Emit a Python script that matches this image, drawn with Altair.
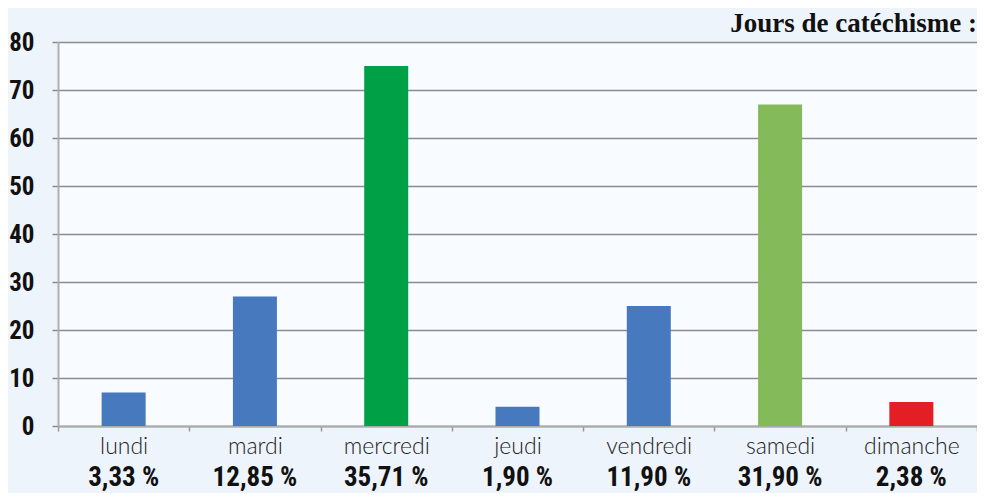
import altair as alt
import pandas as pd

days = ["lundi", "mardi", "mercredi", "jeudi", "vendredi", "samedi", "dimanche"]
counts = [7, 27, 75, 4, 25, 67, 5]
percents = ["3,33 %", "12,85 %", "35,71 %", "1,90 %", "11,90 %", "31,90 %", "2,38 %"]
colors = ["#4679bd", "#4679bd", "#00a046", "#4679bd", "#4679bd", "#84ba5a", "#e31e24"]
y_ticks = [0, 10, 20, 30, 40, 50, 60, 70, 80]
title_text = "Jours de catéchisme :"

df = pd.DataFrame({"day": days, "count": counts, "pct": percents, "color": colors})
title_df = pd.DataFrame({"t": [title_text]})

narrow = "Roboto Condensed"
W, H = 919, 384

x = alt.X(
    "day:N",
    sort=days,
    scale=alt.Scale(paddingInner=0, paddingOuter=0),
    axis=alt.Axis(
        title=None,
        labelAngle=0,
        tickBand="extent",
        tickSize=5,
        tickColor="#999999",
        tickWidth=1.5,
        domainColor="#aaaaaa",
        domainWidth=2,
        labelFont="Lato",
        labelFontWeight=300,
        labelFontSize=23,
        labelColor="#222222",
        labelPadding=4,
        grid=False,
    ),
)

bars = alt.Chart(df).mark_bar(size=44).encode(
    x=x,
    y=alt.Y(
        "count:Q",
        scale=alt.Scale(domain=[0, 80], nice=False),
        axis=alt.Axis(
            title=None,
            values=y_ticks,
            grid=True,
            gridColor="#8c8c8c",
            gridWidth=1.5,
            tickColor="#8c8c8c",
            tickSize=6,
            tickWidth=1.5,
            domainColor="#b0b0b0",
            domainWidth=2,
            labelFont=narrow,
            labelFontWeight="bold",
            labelFontSize=25,
            labelColor="#111111",
            labelPadding=18,
        ),
    ),
    color=alt.Color("color:N", scale=None),
)

pct_text = alt.Chart(df).mark_text(
    font=narrow, fontWeight="bold", fontSize=27, color="#111111", baseline="alphabetic"
).encode(
    x=alt.X("day:N", sort=days),
    y=alt.value(444),
    text="pct:N",
)

title_mark = alt.Chart(title_df).mark_text(
    font="Liberation Serif", fontWeight="bold", fontSize=27, color="#111111",
    align="right", baseline="alphabetic",
).encode(
    x=alt.value(W),
    y=alt.value(-10),
    text="t:N",
)

chart = (
    alt.layer(bars, pct_text, title_mark)
    .properties(
        width=W,
        height=H,
        autosize=alt.AutoSizeParams(type="none"),
        padding={"left": 50, "top": 34, "right": 0, "bottom": 67},
        background="#eef4fb",
    )
    .configure_view(fill="#f8fbff", stroke=None)
)

chart.save("out.html", embed_options={"renderer": "svg", "actions": False})
